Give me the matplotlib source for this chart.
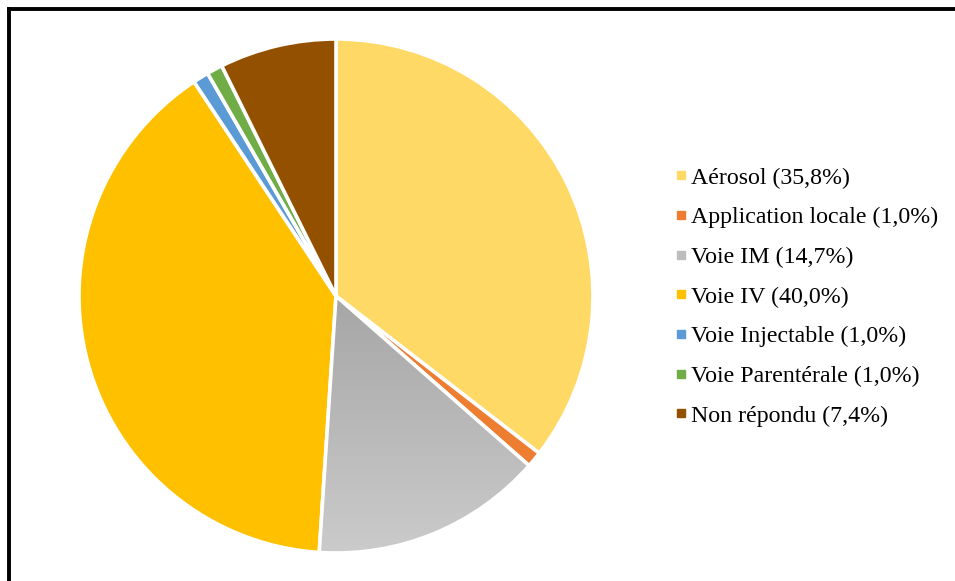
import numpy as np
import matplotlib
matplotlib.use("Agg")
import matplotlib.pyplot as plt
from matplotlib.lines import Line2D
from matplotlib.colors import LinearSegmentedColormap

labels = ["Aérosol", "Application locale", "Voie IM", "Voie IV",
          "Voie Injectable", "Voie Parentérale", "Non répondu"]
values = [35.8, 1.0, 14.7, 40.0, 1.0, 1.0, 7.4]
pct_labels = ["35,8%", "1,0%", "14,7%", "40,0%", "1,0%", "1,0%", "7,4%"]
colors = ["#FFD966", "#ED7D31", "#BDBDBD", "#FFC000", "#5B9BD5", "#70AD47", "#935100"]

W, H = 955, 581
fig = plt.figure(figsize=(W / 100, H / 100), dpi=100)
fig.patch.set_facecolor("white")

cx, cy, r = 336, 296, 257
ax = fig.add_axes([(cx - r) / W, (H - cy - r) / H, 2 * r / W, 2 * r / H])

wedges, _ = ax.pie(values, colors=colors, startangle=90, counterclock=False,
                   radius=1, wedgeprops=dict(edgecolor="white", linewidth=2.6))

# vertical gradient on the gray slice
grad = np.linspace(0, 1, 256).reshape(-1, 1)
cmap = LinearSegmentedColormap.from_list("g", ["#CBCBCB", "#A6A6A6"])
im = ax.imshow(grad, cmap=cmap, extent=[-1, 1, -1, 0.0], origin="lower",
               aspect="auto", zorder=wedges[2].get_zorder() + 0.1)
im.set_clip_path(wedges[2])
wedges[2].set_zorder(wedges[2].get_zorder() + 0.2)
wedges[2].set_facecolor("none")

ax.set_xlim(-1, 1)
ax.set_ylim(-1, 1)
ax.set_aspect("equal")
ax.axis("off")

# legend
handles = [Line2D([0], [0], marker="s", linestyle="none", markersize=5.3,
                  markerfacecolor=c, markeredgecolor=c) for c in colors]
leg_labels = [f"{l} ({p})" for l, p in zip(labels, pct_labels)]
fig.legend(handles, leg_labels, loc="upper left",
           bbox_to_anchor=(675 / W, 1 - 167 / H), frameon=False,
           prop=dict(family="Liberation Serif", size=17.2),
           handlelength=0.5, handletextpad=0.15, labelspacing=0.75,
           borderpad=0, borderaxespad=0)

# frame (top and left edges visible)
fig.add_artist(Line2D([9 / W, 1.0], [1 - 8.5 / H, 1 - 8.5 / H], color="black",
                      linewidth=2.8, transform=fig.transFigure))
fig.add_artist(Line2D([9 / W, 9 / W], [0, 1 - 8.5 / H], color="black",
                      linewidth=2.8, transform=fig.transFigure))

fig.savefig("out.png", dpi=100)
